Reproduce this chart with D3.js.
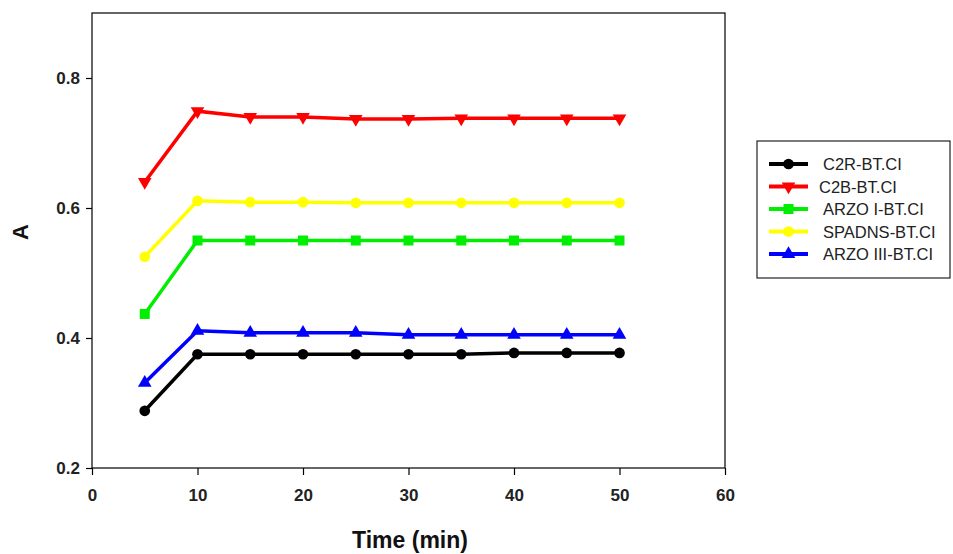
<!DOCTYPE html>
<html>
<head>
<meta charset="utf-8">
<script src="https://cdnjs.cloudflare.com/ajax/libs/d3/7.8.5/d3.min.js"></script>
<style>
  body { margin: 0; background: #fff; }
  svg { font-family: Arial, "Liberation Sans", sans-serif; }
</style>
</head>
<body>
<svg id="chart" width="953" height="554"></svg>
<script>
// time points (min)
var times = [5, 10, 15, 20, 25, 30, 35, 40, 45, 50];

var c2rValues    = [0.288, 0.375, 0.375, 0.375, 0.375, 0.375, 0.375, 0.377, 0.377, 0.377];
var c2bValues    = [0.640, 0.749, 0.740, 0.740, 0.737, 0.737, 0.738, 0.738, 0.738, 0.738];
var arzo1Values  = [0.437, 0.550, 0.550, 0.550, 0.550, 0.550, 0.550, 0.550, 0.550, 0.550];
var spadnsValues = [0.525, 0.611, 0.609, 0.609, 0.608, 0.608, 0.608, 0.608, 0.608, 0.608];
var arzo3Values  = [0.331, 0.411, 0.408, 0.408, 0.408, 0.405, 0.405, 0.405, 0.405, 0.405];

var seriesNames = ["C2R-BT.CI", "C2B-BT.CI", "ARZO I-BT.CI", "SPADNS-BT.CI", "ARZO III-BT.CI"];
var seriesColours = ["#000000", "#ff0000", "#00ee00", "#ffff00", "#0000ff"];
var seriesSymbols = ["circle", "triangleDown", "square", "circle", "triangleUp"];

var xTicks = [0, 10, 20, 30, 40, 50, 60];
var yTicks = [0.2, 0.4, 0.6, 0.8];

var allValues = [c2rValues, c2bValues, arzo1Values, spadnsValues, arzo3Values];

var svg = d3.select("#chart");
var plotLeft = 92, plotRight = 725, plotTop = 13, plotBottom = 468;

var x = d3.scaleLinear().domain([0, 60]).range([plotLeft, plotRight]);
var y = d3.scaleLinear().domain([0.2, 0.9]).range([plotBottom, plotTop]);

// frame
svg.append("rect")
  .attr("x", plotLeft).attr("y", plotTop)
  .attr("width", plotRight - plotLeft).attr("height", plotBottom - plotTop)
  .style("fill", "none").style("stroke", "#000").style("stroke-width", 1.2);

var xAxis = svg.append("g")
  .attr("transform", "translate(0," + plotBottom + ")")
  .call(d3.axisBottom(x).tickValues(xTicks).tickSize(7).tickPadding(14).tickFormat(d3.format("d")));
var yAxis = svg.append("g")
  .attr("transform", "translate(" + plotLeft + ",0)")
  .call(d3.axisLeft(y).tickValues(yTicks).tickSize(6).tickPadding(6).tickFormat(d3.format(".1f")));

[xAxis, yAxis].forEach(function (g) {
  g.select(".domain").remove();
  g.selectAll("line").style("stroke", "#000").style("stroke-width", 1.2);
  g.selectAll("text")
    .style("font-size", "17px")
    .style("font-weight", "bold")
    .style("fill", "#222");
});

svg.append("text")
  .attr("x", 410).attr("y", 548)
  .attr("text-anchor", "middle")
  .style("font-size", "23px").style("font-weight", "bold").style("fill", "#111")
  .text("Time (min)");
svg.append("text")
  .attr("transform", "translate(28,232) rotate(-90)")
  .attr("text-anchor", "middle")
  .style("font-size", "22px").style("font-weight", "bold").style("fill", "#111")
  .text("A");

var symbolTypes = {
  circle: { type: d3.symbolCircle, size: 90 },
  square: { type: d3.symbolSquare, size: 100 },
  triangleUp: { type: d3.symbolTriangle, size: 80, rot: 0 },
  triangleDown: { type: d3.symbolTriangle, size: 80, rot: 180 }
};

var drawMarker = function (g, kind, colour, cx, cy) {
  var s = symbolTypes[kind];
  g.append("path")
    .attr("d", d3.symbol().type(s.type).size(s.size)())
    .attr("transform", "translate(" + cx + "," + cy + ")" + (s.rot ? " rotate(" + s.rot + ")" : ""))
    .style("fill", colour);
};

var line = d3.line()
  .x(function (d, i) { return x(times[i]); })
  .y(function (d) { return y(d); });

// draw in order so black/blue end on top like the original
var drawOrder = [3, 2, 1, 4, 0];
drawOrder.forEach(function (k) {
  var g = svg.append("g");
  g.append("path")
    .datum(allValues[k])
    .attr("d", line)
    .style("fill", "none")
    .style("stroke", seriesColours[k])
    .style("stroke-width", 3.5);
  allValues[k].forEach(function (v, i) {
    drawMarker(g, seriesSymbols[k], seriesColours[k], x(times[i]), y(v));
  });
});

// legend
var legendX = 757, legendY = 141;
svg.append("rect")
  .attr("x", legendX).attr("y", legendY)
  .attr("width", 193).attr("height", 137)
  .style("fill", "#fff").style("stroke", "#222").style("stroke-width", 1.2);

var textX = [823, 819, 823, 823, 823];
seriesNames.forEach(function (name, k) {
  var ly = 164 + k * 22.5;
  var g = svg.append("g");
  g.append("line")
    .attr("x1", 769).attr("x2", 808)
    .attr("y1", ly).attr("y2", ly)
    .style("stroke", seriesColours[k]).style("stroke-width", 4);
  drawMarker(g, seriesSymbols[k], seriesColours[k], 788.5, ly);
  g.append("text")
    .attr("x", textX[k]).attr("y", ly + 6)
    .style("font-size", "16.5px").style("fill", "#222")
    .text(name);
});
</script>
</body>
</html>
